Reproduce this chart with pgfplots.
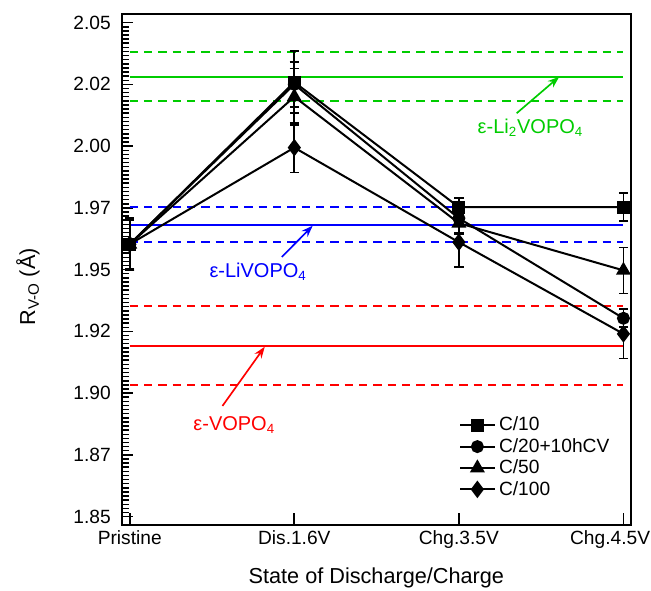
\documentclass[border=0pt]{standalone}
\usepackage{fontspec}
\setmainfont{Liberation Sans}
\usepackage{pgfplots}
\pgfplotsset{compat=1.18}
\usetikzlibrary{arrows.meta}
\definecolor{cgreen}{RGB}{0,204,0}
\definecolor{cblue}{RGB}{0,0,255}
\definecolor{cred}{RGB}{255,0,0}
\begin{document}
\begin{tikzpicture}
\path[use as bounding box] (-73pt,-39pt) rectangle (317.6pt,315pt);
\begin{axis}[
  at={(0,0)}, anchor=south west,
  width=305.6pt, height=306.6pt, scale only axis,
  xmin=-0.049, xmax=3.046, ymin=1.8466, ymax=2.0535,
  xtick={0,1,2,3}, xticklabels={Pristine,Dis.1.6V,Chg.3.5V,{\makebox[0pt]{\kern-16pt Chg.4.5V}}},
  ytick={1.85,1.875,1.9,1.925,1.95,1.975,2.0,2.025,2.05},
  yticklabels={1.85,1.87,1.90,1.92,1.95,1.97,2.00,2.02,2.05},
  minor y tick num=14,
  tick align=inside, xtick pos=bottom, ytick pos=left,
  major tick length=7pt, minor tick length=4.5pt,
  axis line style={line width=1.3pt},
  major tick style={black, line width=1pt},
  minor tick style={black, line width=0.9pt},
  /pgf/number format/assume math mode=true,
  tick label style={font=\fontsize{11.5}{13}\selectfont},
  yticklabel style={xshift=-3pt},
  xlabel={State of Discharge/Charge},
  ylabel={R\textsubscript{V-O} (Å)},
  label style={font=\fontsize{13}{15}\selectfont},
  xlabel style={at={(axis description cs:0.5,-0.104)}, anchor=center},
  ylabel style={at={(axis description cs:-0.184,0.466)}, anchor=center},
  legend style={draw=none, fill=none, at={(0.652,0.225)}, anchor=north west,
    font=\fontsize{11.5}{13}\selectfont, cells={anchor=west}, row sep=-1pt},
  legend cell align=left,
  legend image code/.code={\draw[mark repeat=2,mark phase=2,#1] plot coordinates {(0cm,0cm) (0.365cm,0cm) (0.73cm,0cm)};},
  clip=false,
]
% reference lines
\addplot[cgreen, line width=1pt, forget plot] coordinates {(0,2.0281) (3,2.0281)};
\addplot[cgreen, line width=1pt, dash pattern=on 5pt off 3.6pt, forget plot] coordinates {(0,2.0380) (3,2.0380)};
\addplot[cgreen, line width=1pt, dash pattern=on 5pt off 3.6pt, forget plot] coordinates {(0,2.0184) (3,2.0184)};
\addplot[cblue, line width=1pt, forget plot] coordinates {(0,1.9681) (3,1.9681)};
\addplot[cblue, line width=1pt, dash pattern=on 5pt off 3.6pt, forget plot] coordinates {(0,1.9753) (3,1.9753)};
\addplot[cblue, line width=1pt, dash pattern=on 5pt off 3.6pt, forget plot] coordinates {(0,1.9611) (3,1.9611)};
\addplot[cred, line width=1pt, forget plot] coordinates {(0,1.9191) (3,1.9191)};
\addplot[cred, line width=1pt, dash pattern=on 5pt off 3.6pt, forget plot] coordinates {(0,1.9353) (3,1.9353)};
\addplot[cred, line width=1pt, dash pattern=on 5pt off 3.6pt, forget plot] coordinates {(0,1.9032) (3,1.9032)};
% data
\addplot[black, line width=1.2pt, mark=square*, mark size=3.3pt, mark options={solid},
  error bars/.cd, y dir=both, y explicit, error bar style={line width=1pt},
  error mark options={rotate=90, mark size=2.8pt, line width=1pt}]
  coordinates {(0,1.9603) +- (0,0.0107) (1,2.0259) +- (0,0.0125) (2,1.9753) +- (0,0.0036) (3,1.9753) +- (0,0.0057)};
\addlegendentry{C/10}
\addplot[black, line width=1.2pt, mark=*, mark size=3.3pt, mark options={solid},
  error bars/.cd, y dir=both, y explicit, error bar style={line width=1pt},
  error mark options={rotate=90, mark size=2.8pt, line width=1pt}]
  coordinates {(0,1.9603) +- (0,0.0100) (1,2.0250) +- (0,0.0092) (2,1.9708) +- (0,0.0060) (3,1.9303) +- (0,0.0035)};
\addlegendentry{C/20+10hCV}
\addplot[black, line width=1.2pt, mark=triangle*, mark size=4pt, mark options={solid},
  error bars/.cd, y dir=both, y explicit, error bar style={line width=1pt},
  error mark options={rotate=90, mark size=2.8pt, line width=1pt}]
  coordinates {(0,1.9603) +- (0,0.0098) (1,2.0200) +- (0,0.0115) (2,1.9688) +- (0,0.0046) (3,1.9497) +- (0,0.0093)};
\addlegendentry{C/50}
\addplot[black, line width=1.2pt, mark=diamond*, mark size=4.3pt, mark options={solid},
  error bars/.cd, y dir=both, y explicit, error bar style={line width=1pt},
  error mark options={rotate=90, mark size=2.8pt, line width=1pt}]
  coordinates {(0,1.9603) +- (0,0.0105) (1,1.9994) +- (0,0.0101) (2,1.9611) +- (0,0.0100) (3,1.9240) +- (0,0.0100)};
\addlegendentry{C/100}
% annotations
\draw[cgreen, line width=1pt, -{Stealth[length=7pt,width=5pt]}] (axis cs:2.351,2.0133) -- (axis cs:2.610,2.0281);
\node[cgreen, font=\fontsize{12}{14}\selectfont] at (axis cs:2.435,2.0074) {ε-Li\textsubscript{2}VOPO\textsubscript{4}};
\draw[cblue, line width=1pt, -{Stealth[length=7pt,width=5pt]}] (axis cs:0.924,1.9551) -- (axis cs:1.112,1.9678);
\node[cblue, font=\fontsize{12}{14}\selectfont] at (axis cs:0.780,1.9492) {ε-LiVOPO\textsubscript{4}};
\draw[cred, line width=1pt, -{Stealth[length=7pt,width=5pt]}] (axis cs:0.5635,1.8948) -- (axis cs:0.8207,1.9188);
\node[cred, font=\fontsize{12}{14}\selectfont] at (axis cs:0.635,1.8871) {ε-VOPO\textsubscript{4}};
\end{axis}
\end{tikzpicture}
\end{document}
